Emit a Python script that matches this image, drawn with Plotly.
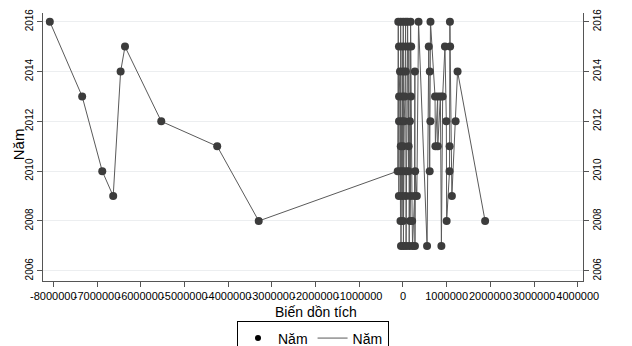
import plotly.graph_objects as go

# Data (x in thousands of units); Stata-style sorted connect
left_x = [-8080, -7340, -6880, -6630, -6460, -6360, -5530, -4250, -3300]
left_year = [2016, 2013, 2010, 2009, 2014, 2015, 2012, 2011, 2008]

cluster = {
    2016: [-107, -52, 7, 61, 107, 175, 357, 630, 1075],
    2015: [-91, -16, 63, 136, 189, 591, 961, 1080],
    2014: [-68, 9, 68, 273, 614, 1250],
    2013: [-89, -14, 45, 182, 734, 795, 857, 909],
    2012: [-90, -30, 30, 159, 628, 993, 1205],
    2011: [-50, 5, 130, 743, 797, 1068],
    2010: [-120, -54, 3, 70, 128, 280, 612, 1066],
    2009: [-93, -18, 66, 173, 266, 318, 1120],
    2008: [-56, 1, 161, 211, 1000, 1880],
    2007: [-45, 11, 72, 143, 220, 275, 552, 880],
}

x_ticks = [-8000000, -7000000, -6000000, -5000000, -4000000, -3000000,
           -2000000, -1000000, 0, 1000000, 2000000, 3000000, 4000000]
x_tick_labels = ["-8000000", "-7000000", "-6000000", "-5000000", "-4000000",
                 "-3000000", "-2000000", "-1000000", "0", "1000000",
                 "2000000", "3000000", "4000000"]
y_ticks = [2006, 2008, 2010, 2012, 2014, 2016]
y_tick_labels = ["2006", "2008", "2010", "2012", "2014", "2016"]

pts = [(x * 1000, y) for x, y in zip(left_x, left_year)]
for yr, xs in cluster.items():
    pts += [(x * 1000, yr) for x in xs]
pts.sort(key=lambda p: p[0])
xs = [p[0] for p in pts]
ys = [p[1] for p in pts]

FONT = "Liberation Sans, Arial, sans-serif"
MARK = "#3c3c3c"
LINE = "#5a5a5a"
AXIS = "#555555"

fig = go.Figure()
fig.add_trace(go.Scatter(x=xs, y=ys, mode="lines", name="Năm", showlegend=False,
                         line=dict(color=LINE, width=1)))
fig.add_trace(go.Scatter(x=xs, y=ys, mode="markers", name="Năm", showlegend=False,
                         marker=dict(color=MARK, size=8)))
# legend entries
fig.add_trace(go.Scatter(x=[None], y=[None], mode="markers", name="Năm",
                         marker=dict(color="black", size=6)))
fig.add_trace(go.Scatter(x=[None], y=[None], mode="lines", name="Năm",
                         line=dict(color=LINE, width=1)))

# page body has an 8px margin, so the figure is 8px smaller than the window
fig.update_layout(
    width=624, height=338,
    margin=dict(l=35, r=49, t=5, b=65, autoexpand=False),
    paper_bgcolor="white", plot_bgcolor="white",
    font=dict(family=FONT, size=11, color="black"),
    showlegend=True,
    legend=dict(orientation="h", x=0.5, xanchor="center", y=-0.151, yanchor="top",
                bordercolor="black", borderwidth=1, font=dict(size=14),
                itemwidth=30, tracegroupgap=0),
    xaxis=dict(range=[-8236000, 4120000], tickvals=x_ticks, ticktext=x_tick_labels,
               tickangle=0, showgrid=False, zeroline=False, showline=True,
               linecolor=AXIS, linewidth=1, ticks="outside", ticklen=5,
               tickcolor=AXIS, tickfont=dict(size=11), automargin=False),
    yaxis=dict(range=[2005.59, 2016.35], tickvals=y_ticks, ticktext=y_tick_labels,
               tickangle=-90, showgrid=True, gridcolor="#eceef0", gridwidth=1,
               zeroline=False, showline=True, linecolor=AXIS, linewidth=1,
               ticks="outside", ticklen=5, tickcolor=AXIS,
               tickfont=dict(size=10), automargin=False),
    yaxis2=dict(range=[2005.59, 2016.35], tickvals=y_ticks, ticktext=y_tick_labels,
                tickangle=-90, overlaying="y", side="right", showgrid=False,
                zeroline=False, showline=True, linecolor=AXIS, linewidth=1,
                ticks="outside", ticklen=5, tickcolor=AXIS,
                tickfont=dict(size=10), automargin=False),
    annotations=[
        dict(text="Năm", x=-0.046, y=0.511, xref="paper", yref="paper",
             textangle=-90, showarrow=False, font=dict(size=15),
             xanchor="center", yanchor="middle"),
        dict(text="Biến dồn tích", x=0.506, y=-0.116, xref="paper", yref="paper",
             showarrow=False, font=dict(size=14), xanchor="center", yanchor="middle"),
    ],
)
fig.add_trace(go.Scatter(x=[None], y=[None], yaxis="y2", showlegend=False,
                         hoverinfo="skip"))

fig.write_html("out.html")
